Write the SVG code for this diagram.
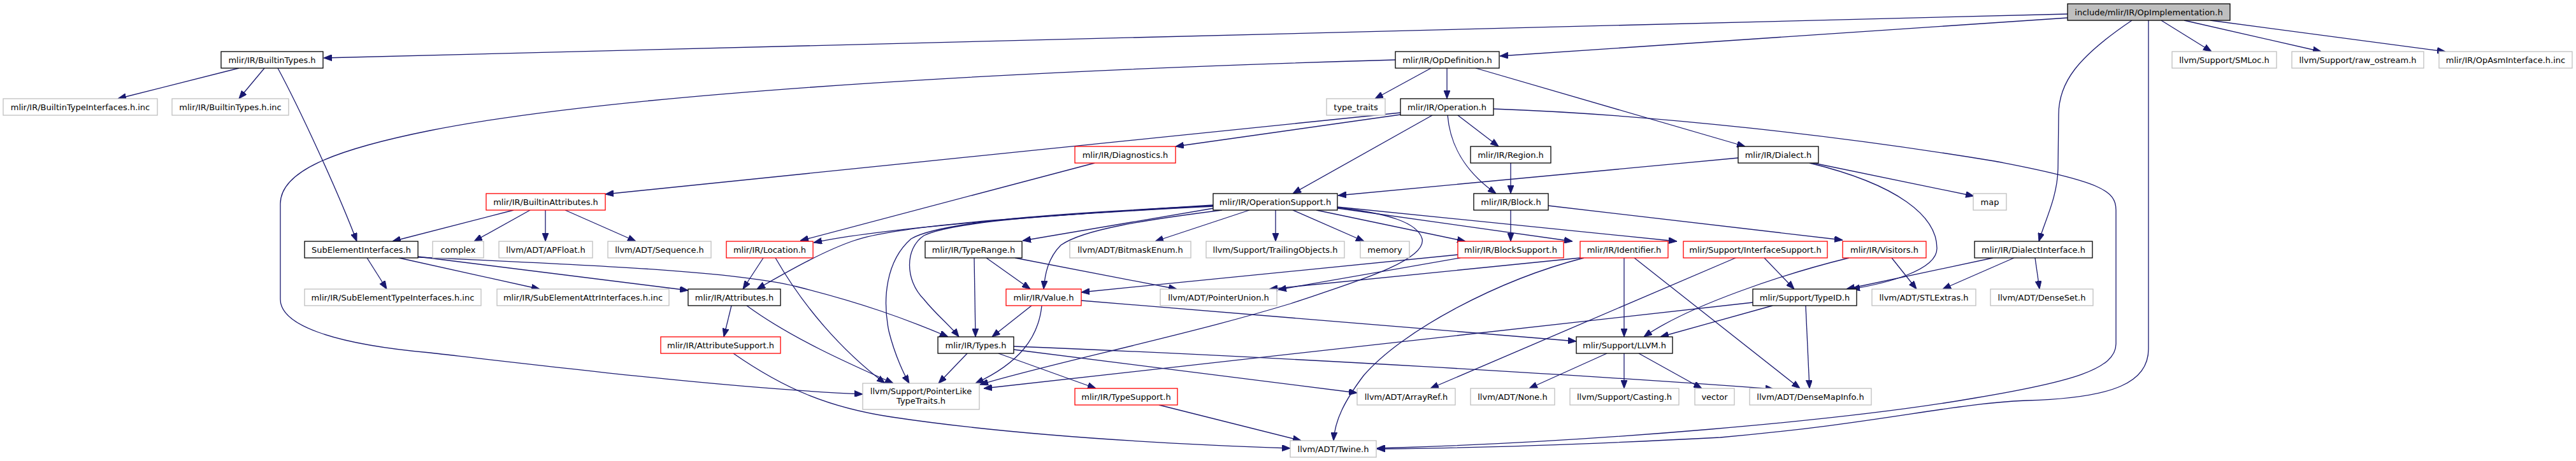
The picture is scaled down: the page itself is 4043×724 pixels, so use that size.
<svg xmlns="http://www.w3.org/2000/svg" width="4043" height="724" viewBox="0 0 4043 724">
<style>
.e{fill:none;stroke:#191970;stroke-width:1.3;marker-end:url(#a)}
rect{fill:#fff;stroke-width:1.3}
.k{stroke:#000}
.r{stroke:#ff0000}
.g{stroke:#bfbfbf}
.root{fill:#bfbfbf;stroke:#000}
text{font-family:"DejaVu Sans","Liberation Sans",sans-serif;font-size:13px;fill:#000;text-anchor:middle}
</style>
<defs>
<marker id="a" markerWidth="13" markerHeight="10" refX="13" refY="5" orient="auto" markerUnits="userSpaceOnUse"><path d="M0,0 L13,5 L0,10 z" fill="#191970" stroke="#191970" stroke-width="1"/></marker>
</defs>
<rect x="0" y="0" width="4043" height="724" style="fill:#fff;stroke:none"/>
<g id="connectors">
<path class="e" d="M3245,22 L508,91"/>
<path class="e" d="M3245,28 L2354,88"/>
<path class="e" d="M3392,32 L3471,81"/>
<path class="e" d="M3428,32 L3643,81"/>
<path class="e" d="M3469,32 L3838,81"/>
<path class="e" d="M3346,32 C3260,90 3231,130 3231,180 L3230,265 C3229,310 3210,345 3200,379"/>
<path class="e" d="M3372,32 L3372,548 C3372,600 3320,625 3180,629 C3060,634 2950,665 2700,687 C2450,700 2300,704 2161,705"/>
<path class="e" d="M2246,107 L2158,155"/>
<path class="e" d="M2271,107 L2271,155"/>
<path class="e" d="M2316,107 L2739,230"/>
<path class="e" d="M2190,94 C1700,108 1000,140 675,205 C520,236 440,270 440,320 L440,470 C440,510 520,540 675,554 C900,580 1150,610 1354,619"/>
<path class="e" d="M2344,171 C2600,180 2900,215 3130,253 C3300,285 3321,300 3321,330 L3321,540 C3321,580 3250,600 3100,625 C2900,660 2500,695 2161,704"/>
<path class="e" d="M2198,180 L1845,230"/>
<path class="e" d="M2198,177 L950,305"/>
<path class="e" d="M2248,181 L2029,304"/>
<path class="e" d="M2288,181 L2352,230"/>
<path class="e" d="M2272,181 C2276,230 2300,270 2348,304"/>
<path class="e" d="M2371,256 L2371,304"/>
<path class="e" d="M2728,248 L2100,307"/>
<path class="e" d="M2846,256 L3098,308"/>
<path class="e" d="M2840,256 C2980,290 3040,340 3040,390 C3040,425 2960,445 2906,454"/>
<path class="e" d="M806,330 L616,379"/>
<path class="e" d="M832,330 L744,379"/>
<path class="e" d="M856,330 L856,379"/>
<path class="e" d="M887,330 L998,379"/>
<path class="e" d="M1718,256 L1256,378"/>
<path class="e" d="M375,107 L185,155"/>
<path class="e" d="M415,107 L375,155"/>
<path class="e" d="M436,107 C470,170 530,300 560,379"/>
<path class="e" d="M1904,322 C1700,335 1400,355 1277,381"/>
<path class="e" d="M1904,323 C1700,335 1420,350 1340,378 C1290,395 1230,430 1188,454"/>
<path class="e" d="M1905,327 L1605,378"/>
<path class="e" d="M1961,330 L1813,379"/>
<path class="e" d="M2002,330 L2002,379"/>
<path class="e" d="M2029,330 L2141,379"/>
<path class="e" d="M2066,330 L2300,379"/>
<path class="e" d="M2099,327 L2468,379"/>
<path class="e" d="M2099,325 L2632,379"/>
<path class="e" d="M2099,326 C2180,335 2225,350 2232,375 C2240,410 2120,445 2025,477 C1850,530 1650,570 1538,604"/>
<path class="e" d="M2371,330 L2371,379"/>
<path class="e" d="M2430,323 L2892,377"/>
<path class="e" d="M576,405 L607,454"/>
<path class="e" d="M626,405 L847,454"/>
<path class="e" d="M656,403 L1080,456"/>
<path class="e" d="M656,404 C900,415 1150,425 1250,450 C1350,475 1420,500 1488,529"/>
<path class="e" d="M1198,405 L1166,454"/>
<path class="e" d="M1217,405 C1260,480 1320,550 1389,602"/>
<path class="e" d="M1148,480 L1136,529"/>
<path class="e" d="M1172,480 C1240,530 1330,570 1402,602"/>
<path class="e" d="M1151,555 C1230,610 1300,640 1400,655 C1600,685 1850,698 2025,704"/>
<path class="e" d="M1529,405 L1531,529"/>
<path class="e" d="M1548,405 L1617,454"/>
<path class="e" d="M1593,405 L1847,454"/>
<path class="e" d="M1904,324 C1700,335 1500,345 1450,370 C1420,390 1420,440 1450,470 C1470,495 1490,510 1505,529"/>
<path class="e" d="M1904,323 C1700,333 1480,345 1430,375 C1390,410 1385,470 1395,520 C1405,560 1420,590 1427,602"/>
<path class="e" d="M1918,330 C1800,345 1700,360 1665,385 C1645,405 1640,430 1638,454"/>
<path class="e" d="M1619,480 L1557,529"/>
<path class="e" d="M1635,480 C1630,530 1600,570 1531,602"/>
<path class="e" d="M1697,472 L2474,536"/>
<path class="e" d="M1518,555 L1473,602"/>
<path class="e" d="M1567,555 L1720,610"/>
<path class="e" d="M1591,549 L2130,617"/>
<path class="e" d="M1591,544 C2000,560 2500,590 2784,611"/>
<path class="e" d="M1819,636 L2042,692"/>
<path class="e" d="M2288,400 L1697,459"/>
<path class="e" d="M2292,405 L2006,455"/>
<path class="e" d="M2480,405 L1992,454"/>
<path class="e" d="M2549,405 L2549,529"/>
<path class="e" d="M2565,405 L2825,610"/>
<path class="e" d="M2486,405 C2350,440 2200,520 2140,590 C2110,630 2095,660 2093,692"/>
<path class="e" d="M2769,405 L2816,454"/>
<path class="e" d="M2724,405 L2245,610"/>
<path class="e" d="M2969,405 L3008,454"/>
<path class="e" d="M2902,405 C2800,430 2650,480 2580,529"/>
<path class="e" d="M2782,480 L2606,529"/>
<path class="e" d="M2751,475 L1544,610"/>
<path class="e" d="M2834,480 L2840,610"/>
<path class="e" d="M3128,405 L2898,454"/>
<path class="e" d="M3161,405 L3049,454"/>
<path class="e" d="M3194,405 L3201,454"/>
<path class="e" d="M2522,555 L2400,610"/>
<path class="e" d="M2549,555 L2549,610"/>
<path class="e" d="M2572,555 L2671,610"/>
</g>
<g id="n0"><rect class="root" x="3245" y="6" width="255" height="26"/><text x="3372.5" y="23.5">include/mlir/IR/OpImplementation.h</text></g>
<g id="n1"><rect class="k" x="347" y="81" width="160" height="26"/><text x="427" y="98.5">mlir/IR/BuiltinTypes.h</text></g>
<g id="n2"><rect class="k" x="2190" y="81" width="163" height="26"/><text x="2271.5" y="98.5">mlir/IR/OpDefinition.h</text></g>
<g id="n3"><rect class="g" x="3409" y="81" width="164" height="26"/><text x="3491" y="98.5">llvm/Support/SMLoc.h</text></g>
<g id="n4"><rect class="g" x="3597" y="81" width="207" height="26"/><text x="3700.5" y="98.5">llvm/Support/raw_ostream.h</text></g>
<g id="n5"><rect class="g" x="3828" y="81" width="209" height="26"/><text x="3932.5" y="98.5">mlir/IR/OpAsmInterface.h.inc</text></g>
<g id="n6"><rect class="g" x="5" y="155" width="242" height="26"/><text x="126" y="172.5">mlir/IR/BuiltinTypeInterfaces.h.inc</text></g>
<g id="n7"><rect class="g" x="270" y="155" width="183" height="26"/><text x="361.5" y="172.5">mlir/IR/BuiltinTypes.h.inc</text></g>
<g id="n8"><rect class="g" x="2082" y="155" width="92" height="26"/><text x="2128" y="172.5">type_traits</text></g>
<g id="n9"><rect class="k" x="2198" y="155" width="146" height="26"/><text x="2271" y="172.5">mlir/IR/Operation.h</text></g>
<g id="n10"><rect class="r" x="1687" y="230" width="158" height="26"/><text x="1766" y="247.5">mlir/IR/Diagnostics.h</text></g>
<g id="n11"><rect class="k" x="2308" y="230" width="126" height="26"/><text x="2371" y="247.5">mlir/IR/Region.h</text></g>
<g id="n12"><rect class="k" x="2728" y="230" width="126" height="26"/><text x="2791" y="247.5">mlir/IR/Dialect.h</text></g>
<g id="n13"><rect class="r" x="763" y="304" width="187" height="26"/><text x="856.5" y="321.5">mlir/IR/BuiltinAttributes.h</text></g>
<g id="n14"><rect class="k" x="1904" y="304" width="195" height="26"/><text x="2001.5" y="321.5">mlir/IR/OperationSupport.h</text></g>
<g id="n15"><rect class="k" x="2313" y="304" width="117" height="26"/><text x="2371.5" y="321.5">mlir/IR/Block.h</text></g>
<g id="n16"><rect class="g" x="3097" y="304" width="52" height="26"/><text x="3123" y="321.5">map</text></g>
<g id="n17"><rect class="k" x="478" y="379" width="178" height="26"/><text x="567" y="396.5">SubElementInterfaces.h</text></g>
<g id="n18"><rect class="g" x="679" y="379" width="80" height="26"/><text x="719" y="396.5">complex</text></g>
<g id="n19"><rect class="g" x="783" y="379" width="147" height="26"/><text x="856.5" y="396.5">llvm/ADT/APFloat.h</text></g>
<g id="n20"><rect class="g" x="954" y="379" width="162" height="26"/><text x="1035" y="396.5">llvm/ADT/Sequence.h</text></g>
<g id="n21"><rect class="r" x="1140" y="379" width="136" height="26"/><text x="1208" y="396.5">mlir/IR/Location.h</text></g>
<g id="n22"><rect class="k" x="1452" y="379" width="152" height="26"/><text x="1528" y="396.5">mlir/IR/TypeRange.h</text></g>
<g id="n23"><rect class="g" x="1679" y="379" width="190" height="26"/><text x="1774" y="396.5">llvm/ADT/BitmaskEnum.h</text></g>
<g id="n24"><rect class="g" x="1893" y="379" width="217" height="26"/><text x="2001.5" y="396.5">llvm/Support/TrailingObjects.h</text></g>
<g id="n25"><rect class="g" x="2135" y="379" width="77" height="26"/><text x="2173.5" y="396.5">memory</text></g>
<g id="n26"><rect class="r" x="2288" y="379" width="166" height="26"/><text x="2371" y="396.5">mlir/IR/BlockSupport.h</text></g>
<g id="n27"><rect class="r" x="2480" y="379" width="138" height="26"/><text x="2549" y="396.5">mlir/IR/Identifier.h</text></g>
<g id="n28"><rect class="r" x="2642" y="379" width="226" height="26"/><text x="2755" y="396.5">mlir/Support/InterfaceSupport.h</text></g>
<g id="n29"><rect class="r" x="2892" y="379" width="131" height="26"/><text x="2957.5" y="396.5">mlir/IR/Visitors.h</text></g>
<g id="n30"><rect class="k" x="3099" y="379" width="185" height="26"/><text x="3191.5" y="396.5">mlir/IR/DialectInterface.h</text></g>
<g id="n31"><rect class="g" x="478" y="454" width="277" height="26"/><text x="616.5" y="471.5">mlir/IR/SubElementTypeInterfaces.h.inc</text></g>
<g id="n32"><rect class="g" x="780" y="454" width="270" height="26"/><text x="915" y="471.5">mlir/IR/SubElementAttrInterfaces.h.inc</text></g>
<g id="n33"><rect class="k" x="1080" y="454" width="145" height="26"/><text x="1152.5" y="471.5">mlir/IR/Attributes.h</text></g>
<g id="n34"><rect class="r" x="1579" y="454" width="118" height="26"/><text x="1638" y="471.5">mlir/IR/Value.h</text></g>
<g id="n35"><rect class="g" x="1821" y="454" width="183" height="26"/><text x="1912.5" y="471.5">llvm/ADT/PointerUnion.h</text></g>
<g id="n36"><rect class="k" x="2751" y="454" width="163" height="26"/><text x="2832.5" y="471.5">mlir/Support/TypeID.h</text></g>
<g id="n37"><rect class="g" x="2938" y="454" width="163" height="26"/><text x="3019.5" y="471.5">llvm/ADT/STLExtras.h</text></g>
<g id="n38"><rect class="g" x="3124" y="454" width="161" height="26"/><text x="3204.5" y="471.5">llvm/ADT/DenseSet.h</text></g>
<g id="n39"><rect class="r" x="1037" y="529" width="188" height="26"/><text x="1131" y="546.5">mlir/IR/AttributeSupport.h</text></g>
<g id="n40"><rect class="k" x="1472" y="529" width="119" height="26"/><text x="1531.5" y="546.5">mlir/IR/Types.h</text></g>
<g id="n41"><rect class="k" x="2474" y="529" width="151" height="26"/><text x="2549.5" y="546.5">mlir/Support/LLVM.h</text></g>
<g id="n42"><rect class="g" x="1354" y="602" width="183" height="41"/><text x="1445.5" y="619">llvm/Support/PointerLike</text><text x="1445.5" y="634">TypeTraits.h</text></g>
<g id="n43"><rect class="r" x="1687" y="610" width="161" height="26"/><text x="1767.5" y="627.5">mlir/IR/TypeSupport.h</text></g>
<g id="n44"><rect class="g" x="2130" y="610" width="154" height="26"/><text x="2207" y="627.5">llvm/ADT/ArrayRef.h</text></g>
<g id="n45"><rect class="g" x="2308" y="610" width="132" height="26"/><text x="2374" y="627.5">llvm/ADT/None.h</text></g>
<g id="n46"><rect class="g" x="2464" y="610" width="171" height="26"/><text x="2549.5" y="627.5">llvm/Support/Casting.h</text></g>
<g id="n47"><rect class="g" x="2660" y="610" width="62" height="26"/><text x="2691" y="627.5">vector</text></g>
<g id="n48"><rect class="g" x="2746" y="610" width="191" height="26"/><text x="2841.5" y="627.5">llvm/ADT/DenseMapInfo.h</text></g>
<g id="n49"><rect class="g" x="2025" y="692" width="135" height="26"/><text x="2092.5" y="709.5">llvm/ADT/Twine.h</text></g>
</svg>
